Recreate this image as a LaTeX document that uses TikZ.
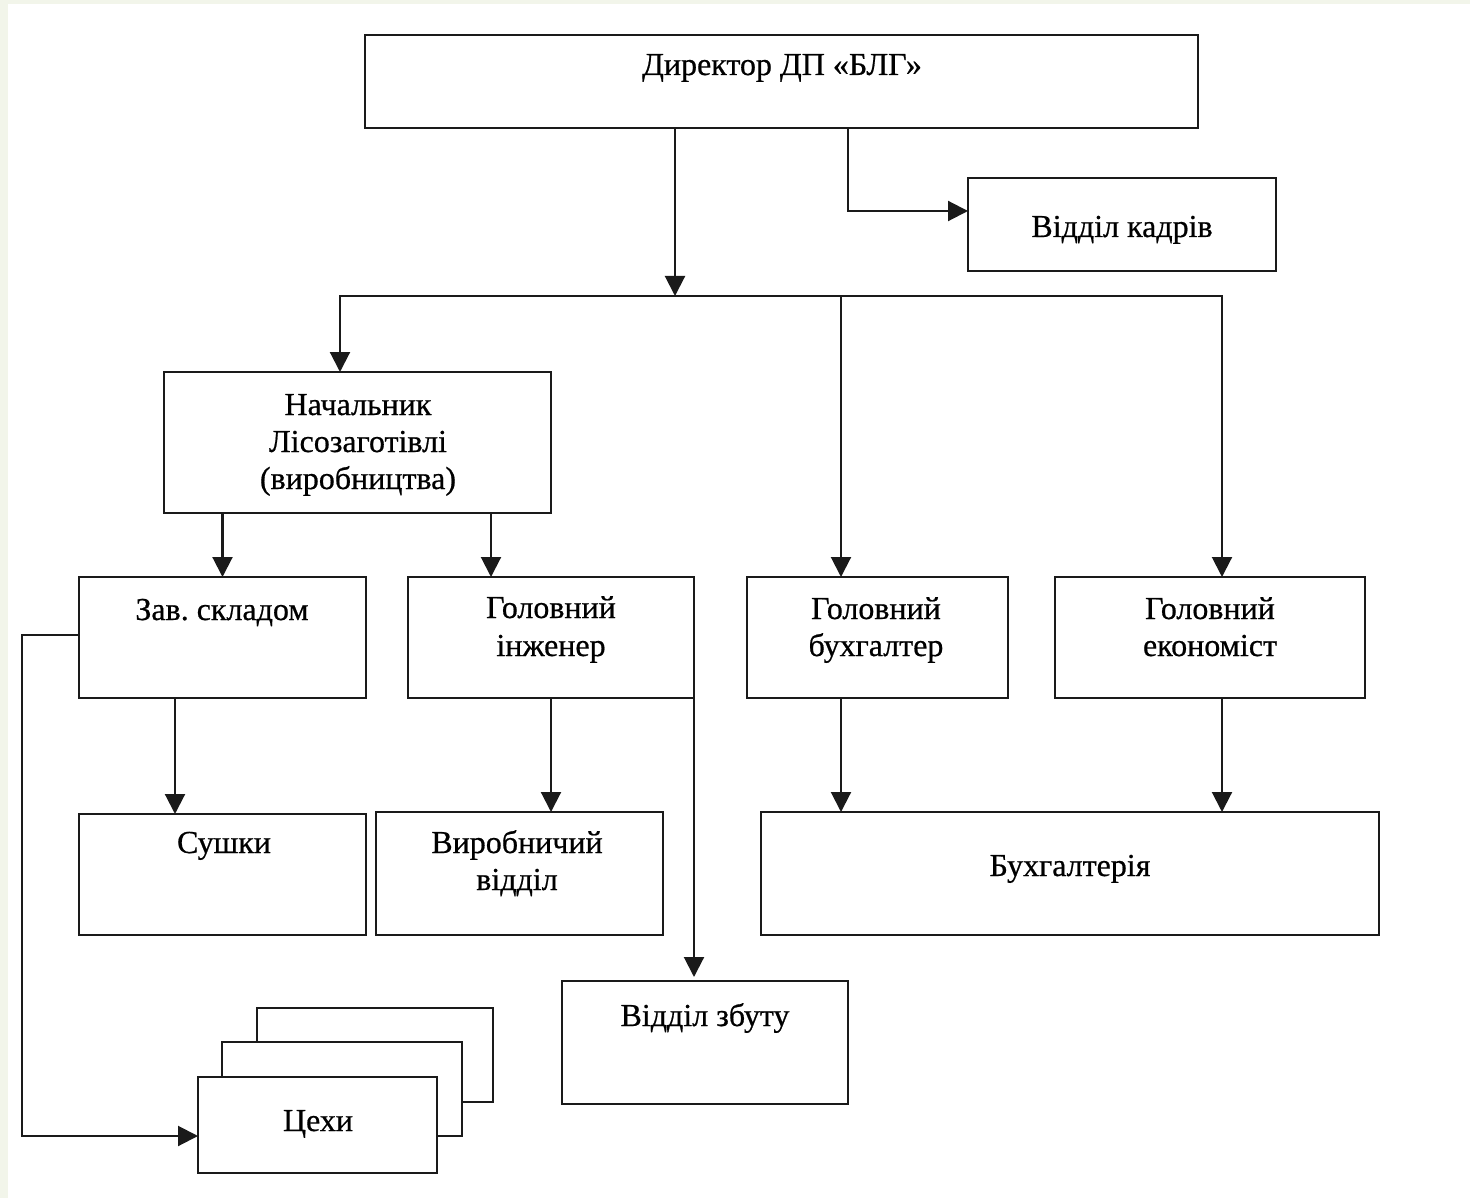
\documentclass[tikz,border=0pt]{standalone}
\usepackage{fontspec}
\setmainfont{Liberation Serif}
\newfontfamily\lblfont{Liberation Serif}[FakeBold=0.6]
\usetikzlibrary{arrows.meta}
\definecolor{ln}{HTML}{1A1A1A}
\definecolor{bgstrip}{HTML}{F2F5EA}
\begin{document}
\begin{tikzpicture}[x=1pt,y=-1pt,
  box/.style={draw=ln, line width=2.2pt, fill=white, inner sep=0pt, outer sep=0pt},
  lbl/.style={font=\lblfont\fontsize{32}{37}\selectfont, anchor=base, inner sep=0pt, text=black},
  conn/.style={draw=ln, line width=2.1pt},
  arr/.style={conn, -{Triangle[width=20pt,length=20pt]}}]
\useasboundingbox (0,0) rectangle (1470,1198);
\fill[white] (0,0) rectangle (1470,1198);
\fill[bgstrip] (0,0) rectangle (1470,4);
\fill[bgstrip] (0,0) rectangle (8,1198);

% boxes
\node[box, minimum width=833, minimum height=93] (dir) at (781.5,81.5) {};
\node[box, minimum width=308, minimum height=93] (kadr) at (1122,224.5) {};
\node[box, minimum width=387, minimum height=141] (nach) at (357.5,442.5) {};
\node[box, minimum width=287, minimum height=121] (zav) at (222.5,637.5) {};
\node[box, minimum width=286, minimum height=121] (inzh) at (551,637.5) {};
\node[box, minimum width=261, minimum height=121] (buh) at (877.5,637.5) {};
\node[box, minimum width=310, minimum height=121] (ekon) at (1210,637.5) {};
\node[box, minimum width=287, minimum height=121] (sush) at (222.5,874.5) {};
\node[box, minimum width=287, minimum height=123] (vyr) at (519.5,873.5) {};
\node[box, minimum width=618, minimum height=123] (buhg) at (1070,873.5) {};
\node[box, minimum width=286, minimum height=123] (zbut) at (705,1042.5) {};
\node[box, minimum width=236, minimum height=94] (cekh3) at (375,1055) {};
\node[box, minimum width=240, minimum height=94] (cekh2) at (342,1089) {};
\node[box, minimum width=239, minimum height=96] (cekh1) at (317.5,1125) {};

% labels
\node[lbl] (tdir) at (782,75) {Директор ДП «БЛГ»};
\node[lbl] (tkadr) at (1122,237) {Відділ кадрів};
\node[lbl] (tnach1) at (358,415) {Начальник};
\node[lbl] (tnach2) at (358,452) {Лісозаготівлі};
\node[lbl] (tnach3) at (358,489) {(виробництва)};
\node[lbl] (tzav) at (222,620) {Зав.\ складом};
\node[lbl] (tinzh1) at (551,618) {Головний};
\node[lbl] (tinzh2) at (551,656) {інженер};
\node[lbl] (tbuh1) at (876,619) {Головний};
\node[lbl] (tbuh2) at (876,656) {бухгалтер};
\node[lbl] (tekon1) at (1210,619) {Головний};
\node[lbl] (tekon2) at (1210,656) {економіст};
\node[lbl] (tsush) at (224,853) {Сушки};
\node[lbl] (tvyr1) at (517,853) {Виробничий};
\node[lbl] (tvyr2) at (517,890) {відділ};
\node[lbl] (tbuhg) at (1070,876) {Бухгалтерія};
\node[lbl] (tzbut) at (705,1026) {Відділ збуту};
\node[lbl] (tcekh) at (318,1131) {Цехи};

% connector coordinates
\coordinate (busM) at (675,296);
\coordinate (busL) at (340,296);
\coordinate (busB) at (841,296);
\coordinate (busR) at (1222,296);
\coordinate (kt) at (848,211);
\coordinate (n2) at (491,0);
\coordinate (s1) at (175,0);
\coordinate (zt) at (694,977);
\coordinate (lp) at (22,635);
\coordinate (lq) at (22,1136);

% connectors
\draw[arr] (dir.south -| busM) -- (busM);
\draw[arr] (dir.south -| kt) |- (kadr.west |- kt);
\draw[arr] (busM) -| (nach.north -| busL);
\draw[arr] (busM) -| (ekon.north -| busR);
\draw[arr] (busB) -- (buh.north -| busB);
\draw[arr] (nach.south -| zav.north) -- (zav.north);
\draw[arr] (nach.south -| n2) -- (inzh.north -| n2);
\draw[arr] (zav.south -| s1) -- (sush.north -| s1);
\draw[arr] (inzh.south) -- (vyr.north -| inzh.south);
\draw[arr] (zt |- inzh.south) -- (zt);
\draw[arr] (buh.south -| busB) -- (buhg.north -| busB);
\draw[arr] (ekon.south -| busR) -- (buhg.north -| busR);
\draw[arr] (zav.west |- lp) -- (lp) -- (lq) -- (cekh1.west |- lq);
\end{tikzpicture}
\end{document}
